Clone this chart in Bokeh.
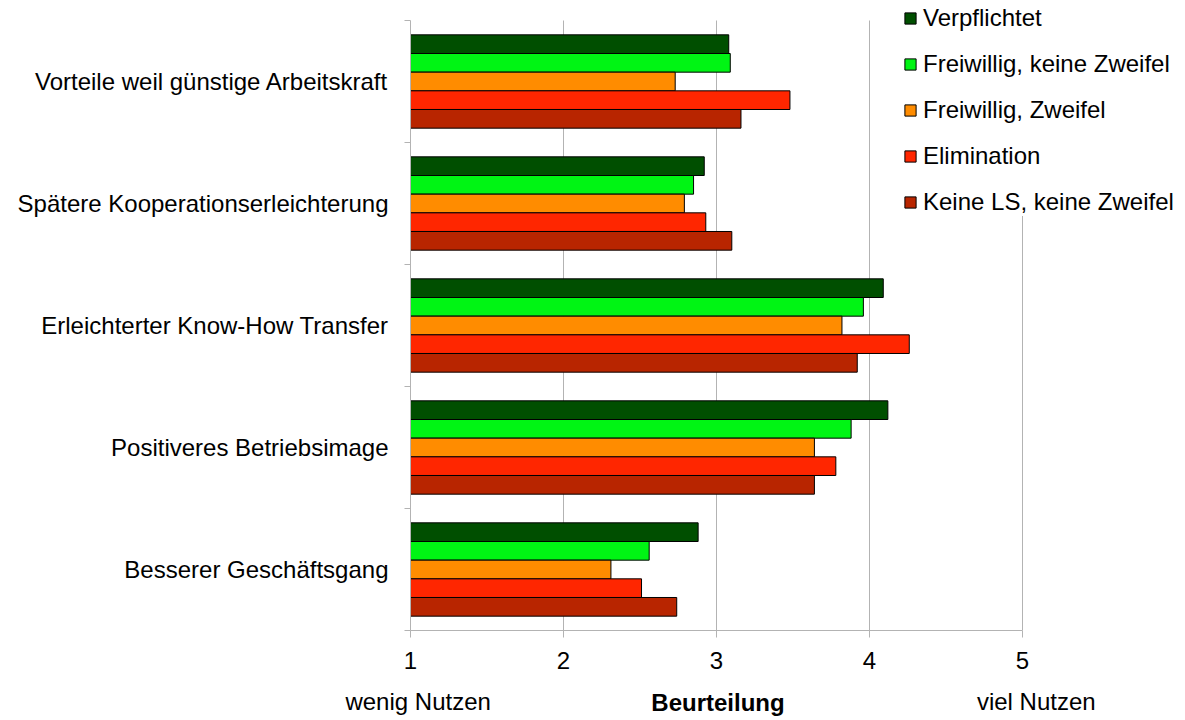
from bokeh.plotting import figure
from bokeh.models import ColumnDataSource, FixedTicker, Legend, LegendItem, LinearAxis
from bokeh.transform import dodge
from bokeh.embed import file_html
from bokeh.resources import INLINE

categories = [
    "Vorteile weil günstige Arbeitskraft",
    "Spätere Kooperationserleichterung",
    "Erleichterter Know-How Transfer",
    "Positiveres Betriebsimage",
    "Besserer Geschäftsgang",
]
series = [
    "Verpflichtet",
    "Freiwillig, keine Zweifel",
    "Freiwillig, Zweifel",
    "Elimination",
    "Keine LS, keine Zweifel",
]
verpflichtet = [3.08, 2.92, 4.09, 4.12, 2.88]
freiwillig_keine = [3.09, 2.85, 3.96, 3.88, 2.56]
freiwillig_zweifel = [2.73, 2.79, 3.82, 3.64, 2.31]
elimination = [3.48, 2.93, 4.26, 3.78, 2.51]
keine_ls = [3.16, 3.10, 3.92, 3.64, 2.74]
x_ticks = [1, 2, 3, 4, 5]
scale_labels = ["wenig Nutzen", "viel Nutzen"]
axis_title = "Beurteilung"

values = [verpflichtet, freiwillig_keine, freiwillig_zweifel, elimination, keine_ls]
colors = ["#004f00", "#00f514", "#ff8c00", "#ff2600", "#b82500"]

FONT = "Liberation Sans"
FS = "24px"
GRAY = "#b3b3b3"

W, H = 1185, 720
LEFT, TOP_EXTRA, BOTTOM = 410, 20, 90
n = len(categories)
cat_px = (H - BOTTOM - TOP_EXTRA) / n
px_per_unit = (1022 - LEFT) / (x_ticks[-1] - x_ticks[0])
x_end = x_ticks[0] + (W - LEFT) / px_per_unit
y_end = n + TOP_EXTRA / cat_px

centers = [n - 0.5 - i for i in range(n)]  # first category on top

p = figure(width=W, height=H, x_range=(x_ticks[0], x_end), y_range=(0, y_end),
           output_backend="svg", toolbar_location=None,
           min_border_left=LEFT, min_border_top=0, min_border_right=0,
           min_border_bottom=BOTTOM)
p.outline_line_color = None
p.background_fill_color = "white"
p.xgrid.grid_line_color = None
p.ygrid.grid_line_color = None

# vertical grid lines (only over the category area)
p.segment(x0=x_ticks[1:], y0=[0] * (len(x_ticks) - 1), x1=x_ticks[1:],
          y1=[n] * (len(x_ticks) - 1), line_color=GRAY, line_width=1)

bar_h = 0.153
offsets = [2 * bar_h, bar_h, 0, -bar_h, -2 * bar_h]
renderers = []
for s, vals, col, off in zip(series, values, colors, offsets):
    src = ColumnDataSource(dict(y=centers, right=vals, cat=categories))
    r = p.hbar(y=dodge("y", off), left=x_ticks[0], right="right", height=bar_h,
               source=src, fill_color=col, line_color="#000000", line_width=1)
    renderers.append((s, r))

# x axis with numbers
xa = p.xaxis[0]
xa.bounds = (x_ticks[0], x_ticks[-1])
xa.ticker = FixedTicker(ticks=x_ticks)
xa.axis_line_color = GRAY
xa.major_tick_line_color = GRAY
xa.major_tick_out = 7
xa.major_tick_in = 0
xa.minor_tick_line_color = None
xa.major_label_text_font = FONT
xa.major_label_text_font_size = FS
xa.major_label_text_color = "#000000"
xa.major_label_standoff = 14

# second x axis: scale ends + bold title on the same line
# (axis label is centred on the frame; trailing no-break spaces move it to x=3)
title_pad = "\u00a0" * 24
xa2 = LinearAxis(bounds=(x_ticks[0], x_ticks[-1]),
                 ticker=FixedTicker(ticks=[x_ticks[0] + 0.05, x_ticks[-1] + 0.09]),
                 major_label_overrides={x_ticks[0] + 0.05: scale_labels[0],
                                        x_ticks[-1] + 0.09: scale_labels[1]},
                 axis_label=axis_title + title_pad)
xa2.axis_line_color = None
xa2.major_tick_line_color = None
xa2.minor_tick_line_color = None
xa2.major_tick_out = 0
xa2.major_tick_in = 0
xa2.major_label_standoff = 16
xa2.major_label_text_font = FONT
xa2.major_label_text_font_size = FS
xa2.major_label_text_color = "#000000"
xa2.axis_label_text_font = FONT
xa2.axis_label_text_font_size = FS
xa2.axis_label_text_font_style = "bold"
xa2.axis_label_text_color = "#000000"
xa2.axis_label_standoff = -29
p.add_layout(xa2, "below")

# y axis: labels at centers, ticks at boundaries
ya = p.yaxis[0]
ya.bounds = (0, n)
ya.ticker = FixedTicker(ticks=centers, minor_ticks=list(range(n + 1)))
ya.major_label_overrides = {c: cat for c, cat in zip(centers, categories)}
ya.axis_line_color = GRAY
ya.major_tick_line_color = None
ya.major_tick_out = 0
ya.major_tick_in = 0
ya.minor_tick_line_color = GRAY
ya.minor_tick_out = 6
ya.minor_tick_in = 0
ya.major_label_text_font = FONT
ya.major_label_text_font_size = FS
ya.major_label_text_color = "#000000"
ya.major_label_standoff = 16

legend = Legend(items=[LegendItem(label=s, renderers=[r]) for s, r in renderers],
                location=(493, 414), orientation="vertical")
legend.background_fill_color = "white"
legend.background_fill_alpha = 1.0
legend.border_line_color = None
legend.padding = 8
legend.margin = 0
legend.spacing = 18
legend.label_height = 24
legend.glyph_height = 14
legend.glyph_width = 14
legend.label_standoff = 6
legend.label_text_font = FONT
legend.label_text_font_size = FS
legend.label_text_color = "#000000"
legend.label_text_baseline = "middle"
p.add_layout(legend, "center")

open("out.html", "w").write(file_html(p, INLINE))
